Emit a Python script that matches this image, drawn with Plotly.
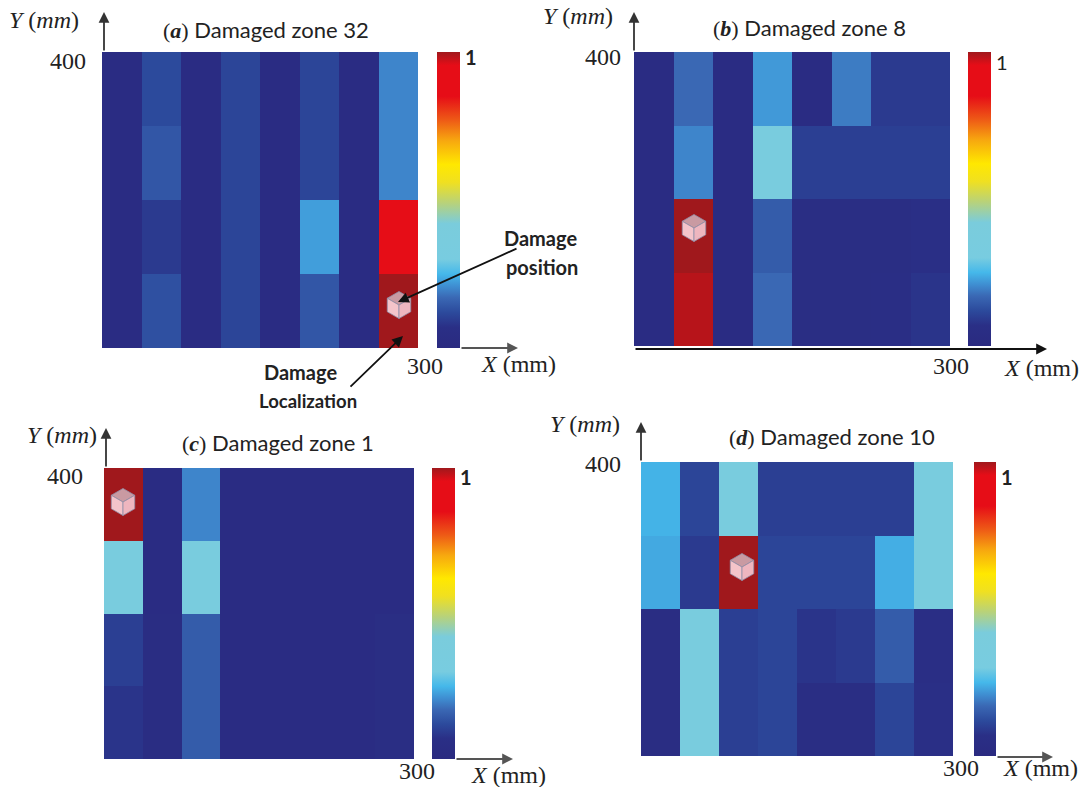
import plotly.graph_objects as go

W, H = 1089, 787
SERIF = "Liberation Serif"
SANS = "Lato"

# cell values, rows listed top to bottom, 8 columns
zone_a = [
    [.03, .12, .03, .11, .03, .11, .03, .20],
    [.03, .14, .03, .11, .03, .11, .03, .20],
    [.03, .09, .03, .11, .03, .225, .03, .87],
    [.03, .13, .03, .11, .03, .14, .03, 1.0],
]
zone_b = [
    [.03, .17, .03, .22, .03, .19, .09, .09],
    [.03, .20, .03, .35, .10, .10, .10, .10],
    [.03, 1.0, .03, .15, .05, .05, .05, .07],
    [.03, .985, .03, .17, .05, .05, .06, .08],
]
zone_c = [
    [1.0, .03, .20, .03, .03, .03, .03, .03],
    [.35, .03, .35, .03, .03, .03, .03, .03],
    [.10, .04, .15, .03, .03, .03, .03, .05],
    [.08, .04, .15, .03, .03, .03, .03, .05],
]
zone_d = [
    [.245, .11, .35, .10, .10, .10, .10, .35],
    [.235, .09, 1.0, .11, .11, .11, .24, .35],
    [.04, .35, .10, .11, .08, .09, .15, .06],
    [.04, .35, .10, .11, .05, .05, .11, .07],
]
x_centers = [18.75, 56.25, 93.75, 131.25, 168.75, 206.25, 243.75, 281.25]
y_centers = [350, 250, 150, 50]

panel_letters = ["a", "b", "c", "d"]
damaged_zones = ["32", "8", "1", "10"]

colorscale = [
    [0.00, "#2a2a80"], [0.07, "#2a2f86"], [0.12, "#2c4a9c"], [0.17, "#3a68b4"],
    [0.21, "#3f8fd2"], [0.25, "#45b8ea"], [0.30, "#78cce0"], [0.42, "#7accdc"],
    [0.49, "#b8d27a"], [0.56, "#f0e020"], [0.62, "#ffe800"], [0.70, "#f7a80f"],
    [0.77, "#ee5a16"], [0.85, "#e60d17"], [0.955, "#e60d17"], [1.00, "#a0181c"],
]

GRAY = "#555555"
BLACK = "#111111"

# pixel geometry of each panel
panels = [
    dict(z=zone_a, box=(102, 418, 52, 348), bar=(437, 460), yarrow=(104, 52, 104, 12), xarrow=(460, 348, 518, 348), xcolor=GRAY,
         ylab=(44, 20), title=(266, 29), y400=(68, 61), one=(471, 57), x300=(425, 366), xlab=(518, 364), cube=(399, 305), onebold=True),
    dict(z=zone_b, box=(634, 950, 52, 346), bar=(968, 991), yarrow=(634, 52, 634, 12), xarrow=(634, 349, 1047, 349), xcolor=BLACK,
         ylab=(578, 16), title=(809, 28), y400=(603, 57), one=(1002, 62), x300=(951, 366), xlab=(1041, 368), cube=(694, 228), onebold=False),
    dict(z=zone_c, box=(104, 414, 468, 759), bar=(432, 455), yarrow=(106, 468, 106, 428), xarrow=(455, 759, 513, 759), xcolor=GRAY,
         ylab=(62, 435), title=(278, 442), y400=(65, 476), one=(466, 477), x300=(417, 771), xlab=(508, 775), cube=(123, 502), onebold=True),
    dict(z=zone_d, box=(641, 953, 462, 756), bar=(974, 996), yarrow=(641, 462, 641, 422), xarrow=(996, 757, 1053, 757), xcolor=GRAY,
         ylab=(585, 424), title=(832, 436), y400=(603, 464), one=(1007, 477), x300=(961, 768), xlab=(1040, 768), cube=(742, 567), onebold=True),
]


def px(x):
    return x / W


def py(y):
    return 1 - y / H


fig = go.Figure()
annotations, shapes = [], []


def text(x, y, s, size=24, family=SERIF, color="#222222"):
    annotations.append(dict(x=px(x), y=py(y), xref="paper", yref="paper", text=s, showarrow=False,
                            xanchor="center", yanchor="middle", font=dict(family=family, size=size, color=color)))


def arrow(x0, y0, x1, y1, color="#333333", width=1.8):
    annotations.append(dict(x=px(x1), y=py(y1), xref="paper", yref="paper", ax=x0 - x1, ay=y0 - y1,
                            axref="pixel", ayref="pixel", text="", showarrow=True, arrowhead=2,
                            arrowsize=1.2, arrowwidth=width, arrowcolor=color))


def cube(cx, cy, r=13.5):
    w = r * 0.87

    def pt(a, b):
        return f"{px(cx + a):.5f},{py(cy + b):.5f}"
    faces = [
        ([(0, -r), (w, -r / 2), (0, 0), (-w, -r / 2)], "#c99aa2"),
        ([(-w, -r / 2), (0, 0), (0, r), (-w, r / 2)], "#f4c4ca"),
        ([(w, -r / 2), (0, 0), (0, r), (w, r / 2)], "#eeb6bf"),
    ]
    for corners, fill in faces:
        path = "M " + " L ".join(pt(a, b) for a, b in corners) + " Z"
        shapes.append(dict(type="path", xref="paper", yref="paper", path=path, fillcolor=fill,
                           line=dict(color="#8f8fa8", width=0.8), layer="above"))


for i, p in enumerate(panels):
    n = "" if i == 0 else str(i + 1)
    x0, x1, y0, y1 = p["box"]
    b0, b1 = p["bar"]
    fig.add_trace(go.Heatmap(
        z=p["z"], x=x_centers, y=y_centers, xaxis=f"x{n}", yaxis=f"y{n}", zmin=0, zmax=1,
        colorscale=colorscale, showscale=True, hoverongaps=False,
        colorbar=dict(x=px(b0), xanchor="left", y=py(y0), yanchor="top",
                      len=y1 - y0, lenmode="pixels", thickness=b1 - b0, thicknessmode="pixels",
                      xpad=0, ypad=0, outlinewidth=0, showticklabels=False, ticks=""),
    ))
    fig.update_layout({
        f"xaxis{n}": dict(domain=[px(x0), px(x1)], range=[0, 300], visible=False, anchor=f"y{n}"),
        f"yaxis{n}": dict(domain=[py(y1), py(y0)], range=[0, 400], visible=False, anchor=f"x{n}"),
    })
    arrow(*p["yarrow"])
    arrow(*p["xarrow"], color=p["xcolor"])
    cube(*p["cube"])
    text(*p["ylab"], "<i>Y</i> (<i>mm</i>)")
    text(*p["xlab"], "<i>X</i> (mm)")
    text(*p["y400"], "400")
    text(*p["x300"], "300")
    one = "<b>1</b>" if p["onebold"] else "1"
    text(*p["one"], one, size=20, family=SANS)
    title = (f"<span style=\"font-family:'{SERIF}'\">(<b><i>{panel_letters[i]}</i></b>)</span> "
             f"Damaged zone {damaged_zones[i]}")
    text(*p["title"], title, size=22, family=SANS)

text(540, 238, "<b>Damage</b>", size=20, family=SANS)
text(542, 267, "<b>position</b>", size=20, family=SANS)
text(300, 372, "<b>Damage</b>", size=20, family=SANS)
text(308, 401, "<b>Localization</b>", size=18.5, family=SANS)
arrow(518, 248, 398, 302, color=BLACK)
arrow(349, 388, 403, 336, color=BLACK)

fig.update_layout(width=W, height=H, margin=dict(l=0, r=0, t=0, b=0), paper_bgcolor="white",
                  plot_bgcolor="white", annotations=annotations, shapes=shapes, showlegend=False)
fig.write_html("out.html", config={"displayModeBar": False}, post_script="document.body.style.margin='0';")
